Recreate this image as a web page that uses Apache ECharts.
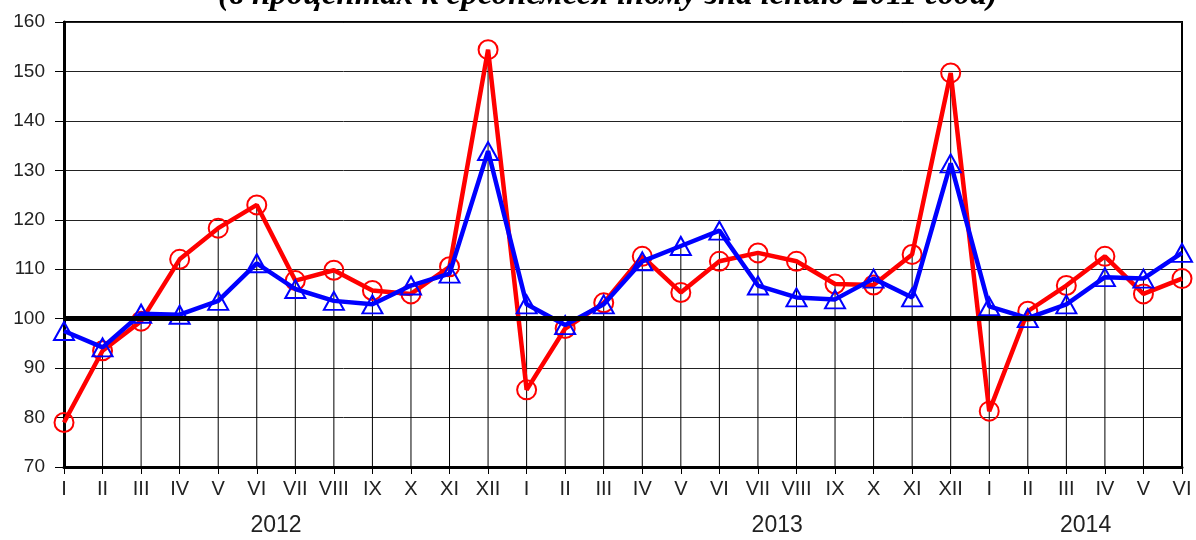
<!DOCTYPE html>
<html>
<head>
<meta charset="utf-8">
<script src="https://cdn.jsdelivr.net/npm/echarts@6/dist/echarts.min.js"></script>
<style>
  html, body { margin: 0; padding: 0; background: #fff; }
  #chart { width: 1196px; height: 540px; }
</style>
</head>
<body>
<div id="chart"></div>
<script>
// месяцы по оси X
var months = ['I','II','III','IV','V','VI','VII','VIII','IX','X','XI','XII',
              'I','II','III','IV','V','VI','VII','VIII','IX','X','XI','XII',
              'I','II','III','IV','V','VI'];
// подписи годов (по промежуткам между месяцами)
var yearSlots = ['', '', '', '', '', '2012', '', '', '', '', '', '', '', '', '',
                 '', '', '', '2013', '', '', '', '', '', '', '', '2014', '', ''];
var yTicks = [70, 160, 10];

// красная линия (кружки)
var redValues = [79, 93.5, 99.5, 112, 118.3, 123, 107.7, 109.8, 105.7, 105, 110.5, 154.4,
                 85.6, 98, 103.2, 112.6, 105.3, 111.6, 113.3, 111.6, 107, 106.8, 113, 149.7,
                 81.3, 101.5, 106.7, 112.6, 105, 108.1];
// синяя линия (треугольники)
var blueValues = [97.5, 94.2, 101, 100.8, 103.6, 111.2, 106, 103.6, 102.9, 106.7, 109.1, 133.9,
                  102.9, 98.7, 102.9, 111.6, 114.7, 117.8, 106.7, 104.3, 103.9, 108.1, 104.3, 131.4,
                  102.5, 100.1, 102.9, 108.4, 108.1, 113.3];

// вертикальные линии до верхней точки
var dropValues = redValues.map(function (v, i) { return Math.max(v, blueValues[i]); });

var chart = echarts.init(document.getElementById('chart'));

var option = {
    animation: false,
    title: {
        text: '(в процентах к среднемесячному значению 2011 года)',
        left: 213,
        top: -26,
        textStyle: {
            fontFamily: 'Liberation Serif',
            fontStyle: 'italic',
            fontWeight: 'bold',
            fontSize: 33,
            color: '#000'
        }
    },
    grid: {
        left: 64, right: 14, top: 22, bottom: 73,
        show: true,
        borderColor: '#000',
        borderWidth: 2
    },
    xAxis: [
        {
            type: 'category',
            data: months,
            boundaryGap: false,
            axisLine: { lineStyle: { color: '#000', width: 3 } },
            axisTick: { show: true, length: 7, interval: 0, lineStyle: { color: '#000', width: 1 } },
            axisLabel: {
                interval: 0, margin: 12,
                fontFamily: 'Liberation Sans', fontSize: 20, color: '#222'
            },
            splitLine: { show: false }
        },
        {
            type: 'category',
            data: yearSlots,
            position: 'bottom',
            boundaryGap: true,
            axisLine: { show: false },
            axisTick: { show: false },
            axisLabel: {
                interval: 0, margin: 47,
                fontFamily: 'Liberation Sans', fontSize: 23, color: '#222'
            },
            splitLine: { show: false }
        }
    ],
    yAxis: {
        type: 'value',
        min: yTicks[0],
        max: yTicks[1],
        interval: yTicks[2],
        axisLine: { show: true, lineStyle: { color: '#000', width: 3 } },
        axisTick: { show: true, length: 9, lineStyle: { color: '#000', width: 1 } },
        axisLabel: {
            margin: 19,
            fontFamily: 'Liberation Sans', fontSize: 19, color: '#222'
        },
        splitLine: { show: true, lineStyle: { color: '#222', width: 1 } }
    },
    series: [
        {
            type: 'bar',
            data: dropValues,
            barWidth: 1,
            itemStyle: { color: '#000' },
            z: 1,
            silent: true,
            markLine: {
                silent: true,
                symbol: 'none',
                label: { show: false },
                lineStyle: { color: '#000', width: 5, type: 'solid' },
                data: [{ yAxis: 100 }]
            }
        },
        {
            type: 'line',
            data: redValues,
            symbol: 'circle',
            symbolSize: 19,
            lineStyle: { color: '#ff0000', width: 4.5 },
            itemStyle: { color: 'rgba(0,0,0,0)', borderColor: '#ff0000', borderWidth: 2 },
            z: 3
        },
        {
            type: 'line',
            data: blueValues,
            symbol: 'triangle',
            symbolSize: [20, 18],
            lineStyle: { color: '#0000ff', width: 4.5 },
            itemStyle: { color: 'rgba(0,0,0,0)', borderColor: '#0000ff', borderWidth: 2 },
            z: 4
        }
    ]
};

chart.setOption(option);
</script>
</body>
</html>
